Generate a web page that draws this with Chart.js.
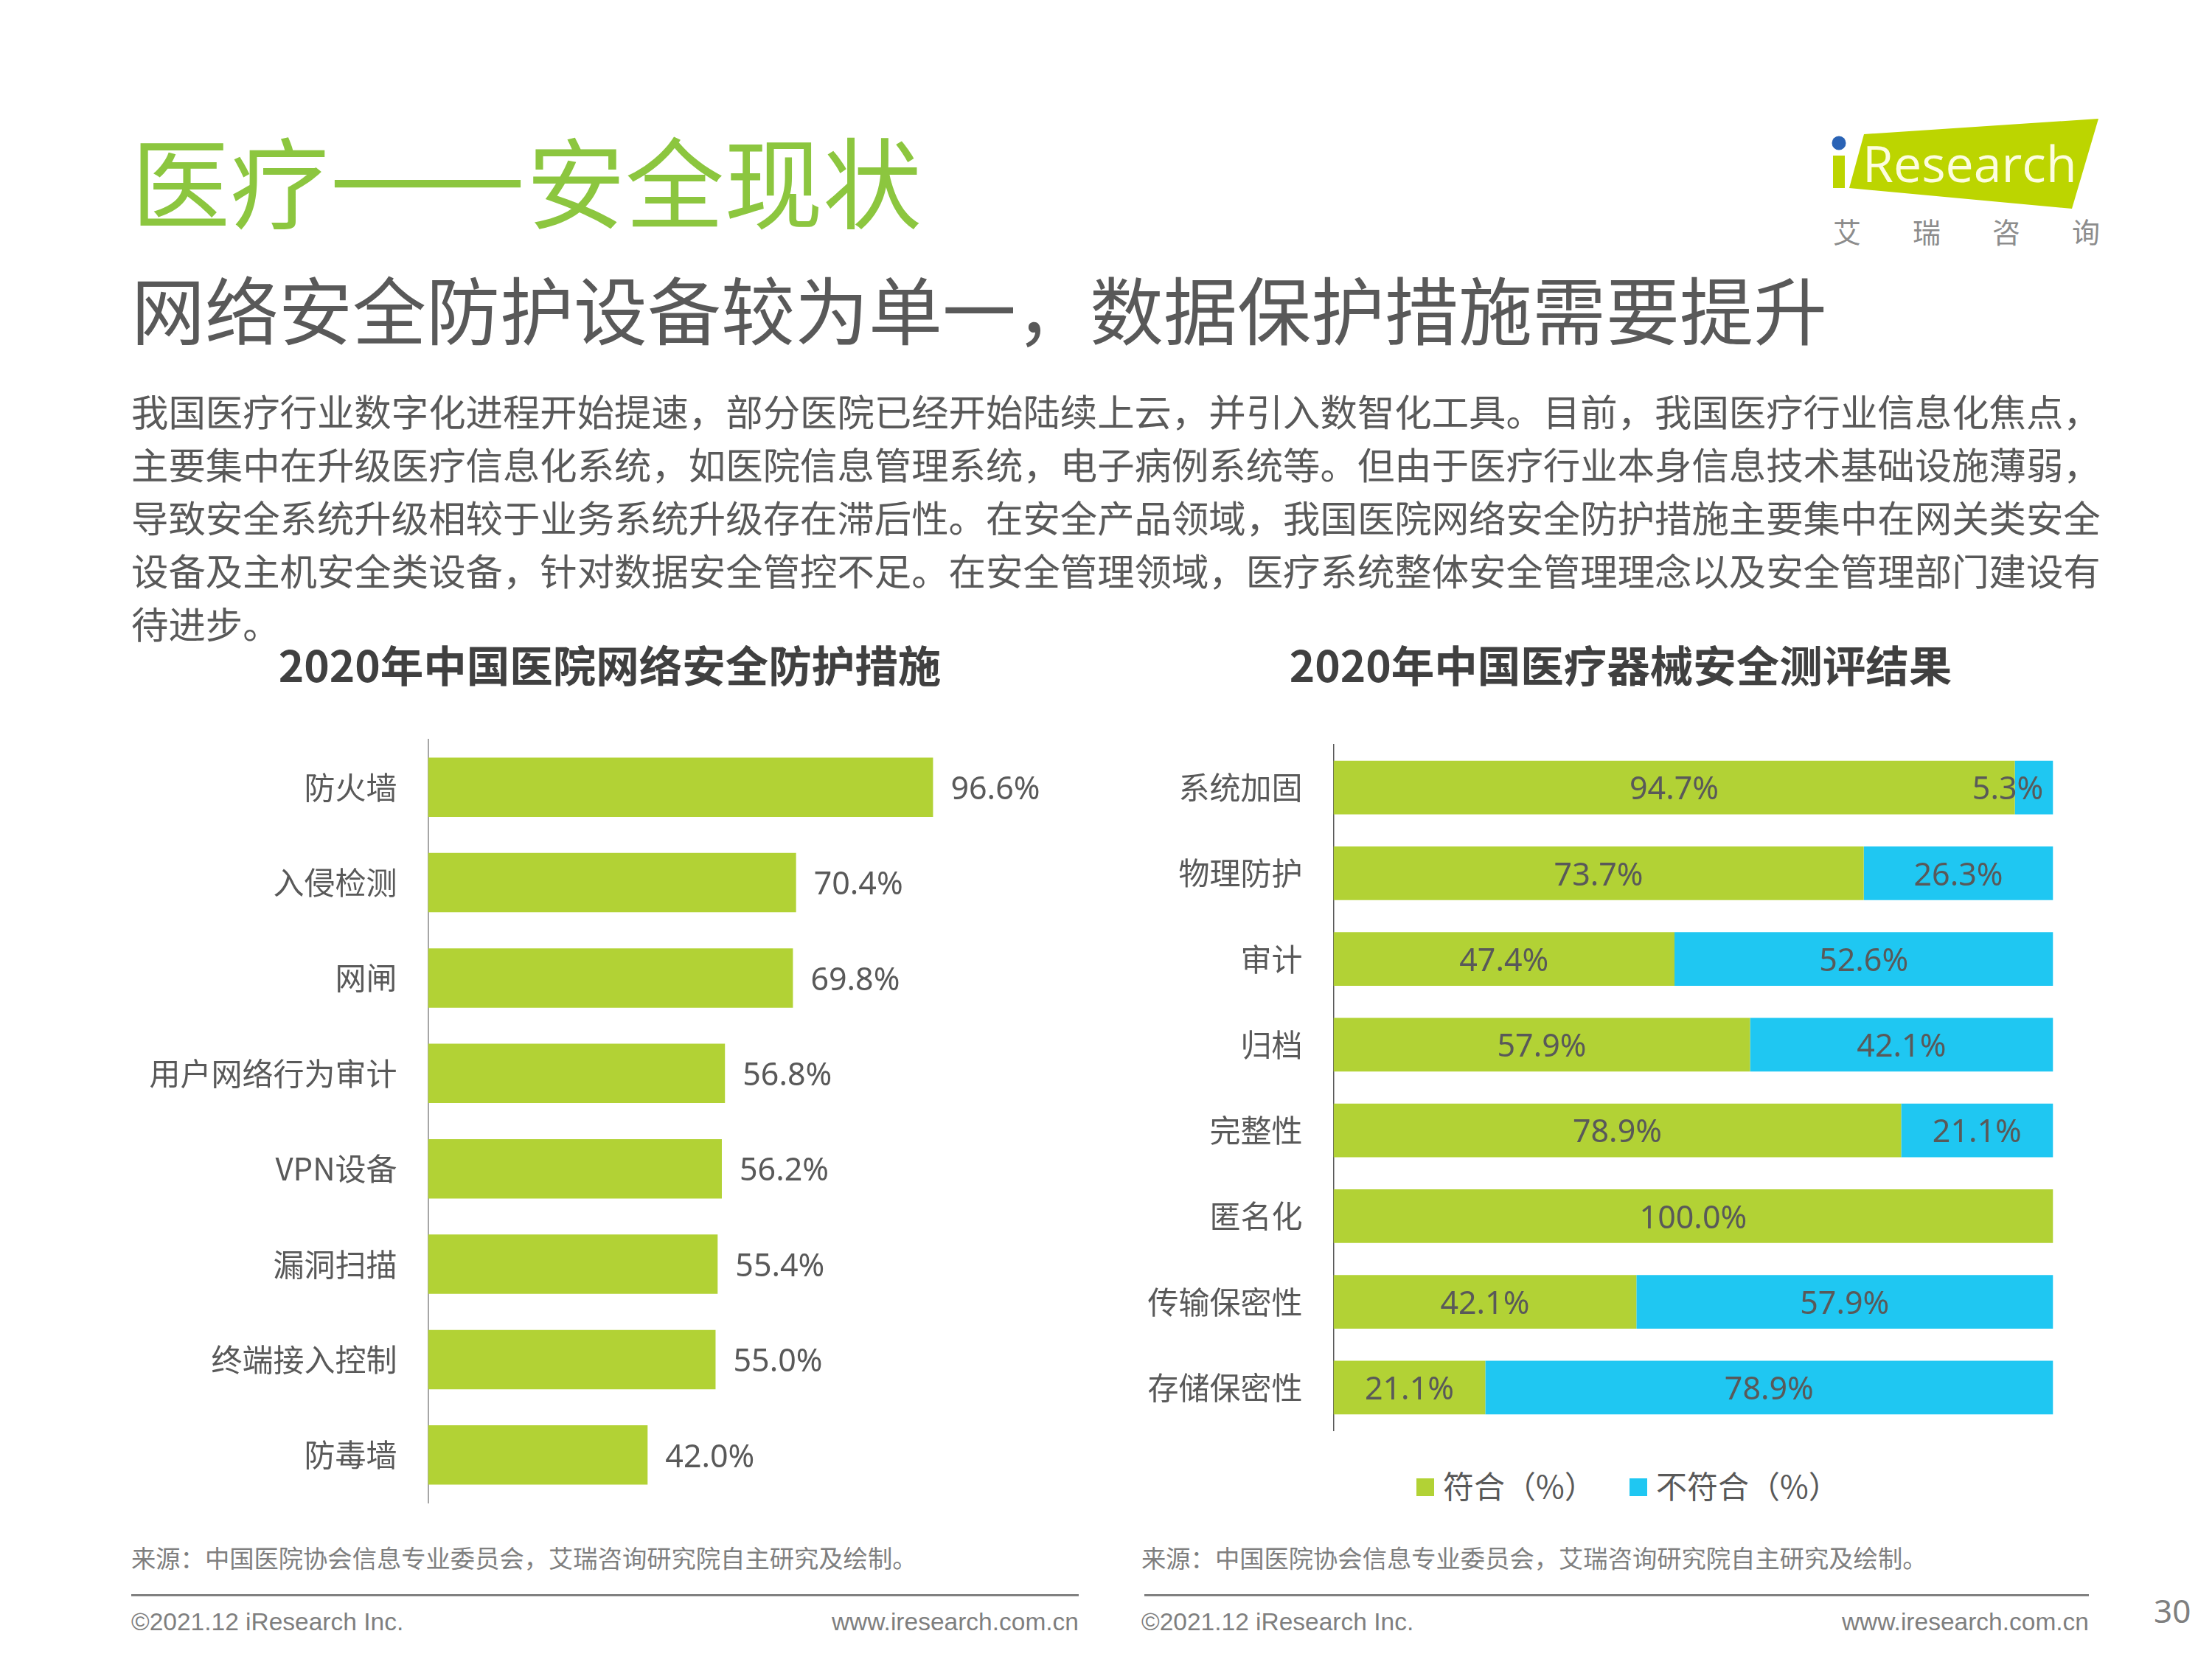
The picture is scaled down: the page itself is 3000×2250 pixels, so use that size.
<!DOCTYPE html>
<html lang="zh-CN">
<head>
<meta charset="utf-8">
<title>医疗——安全现状</title>
<script src="https://cdn.jsdelivr.net/npm/chart.js@4/dist/chart.umd.min.js"></script>
<style>
    html, body { margin: 0; padding: 0; background: #fff; }
    #page { position: relative; width: 3000px; height: 2250px; overflow: hidden; font-family: "Noto Sans CJK SC", sans-serif; color: #595959; }
    #page canvas { position: absolute; }
    .t { position: absolute; white-space: nowrap; }
    .rule { position: absolute; height: 3px; background: #808080; }
    .foot { font-family: "Liberation Sans", sans-serif; font-size: 33.5px; line-height: 40px; color: #7f7f7f; }
    .src { font-size: 33.3px; line-height: 40px; color: #7f7f7f; }
    .body { left: 178px; font-size: 50.4px; line-height: 72px; }
    .legend-item { position: absolute; top: 1990px; height: 54px; line-height: 54px; font-size: 42px; white-space: nowrap; }
    .legend-item i { position: absolute; left: 0; top: 15px; width: 24px; height: 24px; }
    .legend-item span { position: absolute; left: 36px; top: -3px; }
</style>
</head>
<body>
<div id="page">
    <div class="t" style="left:178px;top:162px;font-size:134px;line-height:160px;color:#8cc63f">医疗<span style="font-weight:700;-webkit-text-stroke:4px #8cc63f">——</span>安全现状</div>
    <div class="t" style="left:178px;top:357px;font-size:100px;line-height:120px">网络安全防护设备较为单一&#xFF0C;数据保护措施需要提升</div>

    <div class="t body" style="top:521px">我国医疗行业数字化进程开始提速&#xFF0C;部分医院已经开始陆续上云&#xFF0C;并引入数智化工具。目前&#xFF0C;我国医疗行业信息化焦点&#xFF0C;</div>
    <div class="t body" style="top:593px">主要集中在升级医疗信息化系统&#xFF0C;如医院信息管理系统&#xFF0C;电子病例系统等。但由于医疗行业本身信息技术基础设施薄弱&#xFF0C;</div>
    <div class="t body" style="top:665px">导致安全系统升级相较于业务系统升级存在滞后性。在安全产品领域&#xFF0C;我国医院网络安全防护措施主要集中在网关类安全</div>
    <div class="t body" style="top:737px">设备及主机安全类设备&#xFF0C;针对数据安全管控不足。在安全管理领域&#xFF0C;医疗系统整体安全管理理念以及安全管理部门建设有</div>
    <div class="t body" style="top:809px">待进步。</div>

    <svg style="position:absolute;left:2470px;top:150px" width="400" height="150" viewBox="2470 150 400 150">
        <polygon points="2528,182 2846,161 2810,283 2508,255" fill="#bcd500"/>
        <rect x="2486" y="211" width="16" height="44" fill="#bcd500"/>
        <circle cx="2494" cy="194" r="9.5" fill="#2a63b5"/>
        <text x="2526" y="247" font-family="Open Sans" font-size="68" fill="#fdfde0">Research</text>
    </svg>
    <div class="t" style="left:2486px;top:290px;font-size:38px;line-height:46px;letter-spacing:70px;color:#8c8c8c">艾瑞咨询</div>

    <canvas id="firewallChart" width="1454" height="1204" style="left:100px;top:860px"></canvas>
    <canvas id="deviceChart" width="1356" height="1106" style="left:1520px;top:860px"></canvas>
    <div id="deviceLegend"></div>

    <div class="t src" style="left:178px;top:2092px">来源&#xFF1A;中国医院协会信息专业委员会&#xFF0C;艾瑞咨询研究院自主研究及绘制。</div>
    <div class="t src" style="left:1548px;top:2092px">来源&#xFF1A;中国医院协会信息专业委员会&#xFF0C;艾瑞咨询研究院自主研究及绘制。</div>
    <div class="rule" style="left:178px;top:2162px;width:1285px"></div>
    <div class="rule" style="left:1552px;top:2162px;width:1281px"></div>
    <div class="t foot" style="left:178px;top:2180px">©2021.12 iResearch Inc.</div>
    <div class="t foot" style="right:1537px;top:2180px">www.iresearch.com.cn</div>
    <div class="t foot" style="left:1548px;top:2180px">©2021.12 iResearch Inc.</div>
    <div class="t foot" style="right:167px;top:2180px">www.iresearch.com.cn</div>
    <div class="t" style="left:2921px;top:2154px;font-family:'Noto Sans';font-size:44px;line-height:60px;color:#7f7f7f">30</div>
</div>

<script>
const protectionCategories = ['防火墙', '入侵检测', '网闸', '用户网络行为审计', 'VPN设备', '漏洞扫描', '终端接入控制', '防毒墙'];
const protectionValues = [96.6, 70.4, 69.8, 56.8, 56.2, 55.4, 55.0, 42.0];

const deviceCategories = ['系统加固', '物理防护', '审计', '归档', '完整性', '匿名化', '传输保密性', '存储保密性'];
const passValues = [94.7, 73.7, 47.4, 57.9, 78.9, 100.0, 42.1, 21.1];
const failValues = [5.3, 26.3, 52.6, 42.1, 21.1, 0, 57.9, 78.9];
const deviceSeries = ['符合\uFF08%\uFF09', '不符合\uFF08%\uFF09'];

const GREEN = '#b2d235';
const BLUE = '#1fc7f2';
const TEXT = '#595959';
const CJK = '"Noto Sans CJK SC"';
const NUM = '"Noto Sans"';

// value labels, next to the bar end or inside the segment
const valueLabels = {
    id: 'valueLabels',
    afterDatasetsDraw(chart, args, opts) {
        const ctx = chart.ctx;
        ctx.save();
        ctx.font = '43px ' + NUM;
        ctx.fillStyle = TEXT;
        ctx.textBaseline = 'middle';
        chart.data.datasets.forEach((ds, i) => {
            chart.getDatasetMeta(i).data.forEach((bar, j) => {
                const v = ds.data[j];
                if (!v) return;
                const text = v.toFixed(1) + '%';
                const y = bar.y + 4;
                if (opts.outside) {
                    ctx.textAlign = 'left';
                    ctx.fillText(text, bar.x + 24, y);
                } else if (Math.abs(bar.x - bar.base) < ctx.measureText(text).width) {
                    // too narrow a segment: the label leans on the end of the bar
                    ctx.textAlign = 'right';
                    ctx.fillText(text, bar.x - 13, y);
                } else {
                    ctx.textAlign = 'center';
                    ctx.fillText(text, (bar.x + bar.base) / 2, y);
                }
            });
        });
        ctx.restore();
    }
};

function baseOptions(title, axisWidth, axisMax, axisColor, axisLine, titleBottom, outside) {
    return {
        indexAxis: 'y',
        responsive: false,
        animation: false,
        layout: { padding: { top: 0, right: 0, bottom: 26, left: 0 } },
        plugins: {
            legend: { display: false },
            tooltip: { enabled: false },
            title: {
                display: true,
                text: title,
                color: '#404040',
                font: { family: CJK, size: 58.5, weight: 'bold', lineHeight: 1.2 },
                padding: { top: 8, bottom: titleBottom }
            },
            valueLabels: { outside: outside }
        },
        scales: {
            x: { display: false, min: 0, max: axisMax, stacked: !outside },
            y: {
                stacked: !outside,
                afterFit(scale) { scale.width = axisWidth; },
                grid: { display: false, drawTicks: true, tickLength: 42 },
                border: { display: true, color: axisColor, width: axisLine },
                ticks: { color: TEXT, padding: 0, font: { family: CJK, size: 42 } }
            }
        }
    };
}

new Chart(document.getElementById('firewallChart'), {
    type: 'bar',
    data: {
        labels: protectionCategories,
        datasets: [{ data: protectionValues, backgroundColor: GREEN, categoryPercentage: 1, barPercentage: 0.622 }]
    },
    options: baseOptions('2020年中国医院网络安全防护措施', 480.5, 137.3, '#a6a6a6', 2, 64.8, true),
    plugins: [valueLabels]
});

const deviceChart = new Chart(document.getElementById('deviceChart'), {
    type: 'bar',
    data: {
        labels: deviceCategories,
        datasets: [
            { label: deviceSeries[0], data: passValues, backgroundColor: GREEN, categoryPercentage: 1, barPercentage: 0.626 },
            { label: deviceSeries[1], data: failValues, backgroundColor: BLUE, categoryPercentage: 1, barPercentage: 0.626 }
        ]
    },
    options: baseOptions('2020年中国医疗器械安全测评结果', 288.5, 109.4, '#595959', 1.5, 71.8, false),
    plugins: [valueLabels]
});

// legend sits below the plot, built from the chart's own datasets
const legendLeft = [1921, 2210];
deviceChart.data.datasets.forEach((ds, i) => {
    const item = document.createElement('div');
    item.className = 'legend-item';
    item.style.left = legendLeft[i] + 'px';
    item.innerHTML = '<i style="background:' + ds.backgroundColor + '"></i><span>' + ds.label + '</span>';
    document.getElementById('deviceLegend').appendChild(item);
});
</script>
</body>
</html>
